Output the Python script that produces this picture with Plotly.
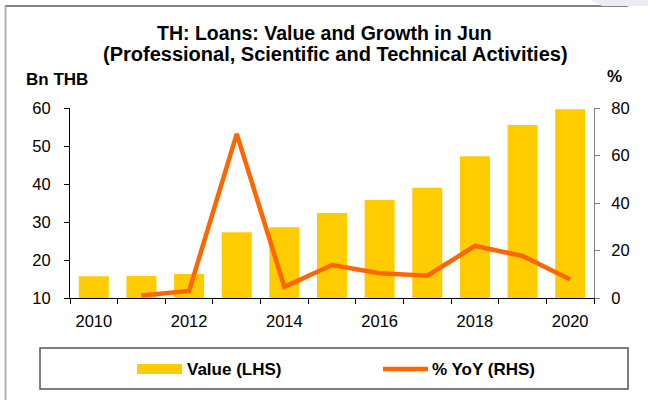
import plotly.graph_objects as go

# Loans to professional, scientific and technical activities (June of each year)
years = list(range(2010, 2021))
value_bn_thb = [15.7, 15.8, 16.3, 27.3, 28.6, 32.4, 35.8, 39.0, 47.3, 55.5, 59.7]
yoy_pct = [None, 1.1, 3.0, 69.1, 4.7, 13.9, 10.4, 9.4, 21.9, 17.7, 7.8]
x_tick_years = [2010, 2012, 2014, 2016, 2018, 2020]

BAR_COLOR = "#FFCC00"
LINE_COLOR = "#FF6600"
FONT = "Arial, 'Liberation Sans', sans-serif"

W, H = 648, 400
L, R, T, B = 70, 54, 108, 102
PW, PH = W - L - R, H - T - B


def px(xp):
    """Pixel column -> paper x."""
    return (xp - L) / PW


def py(yp):
    """Pixel row -> paper y."""
    return (H - B - yp) / PH


fig = go.Figure()
fig.add_trace(go.Bar(
    x=years, y=value_bn_thb, name="Value (LHS)",
    marker=dict(color=BAR_COLOR, line=dict(width=0)),
    yaxis="y", showlegend=False,
))
fig.add_trace(go.Scatter(
    x=years, y=yoy_pct, name="% YoY (RHS)", mode="lines",
    line=dict(color=LINE_COLOR, width=4.5),
    yaxis="y2", showlegend=False, connectgaps=False,
))

fig.update_layout(
    width=W, height=H,
    margin=dict(l=L, r=R, t=T, b=B, pad=0),
    paper_bgcolor="white", plot_bgcolor="white",
    font=dict(family=FONT, size=16, color="black"),
    bargap=0.37,
    xaxis=dict(
        range=[2009.5, 2020.5],
        tickvals=x_tick_years, ticktext=[str(y) for y in x_tick_years],
        ticks="outside", ticklen=5, tickcolor="rgba(0,0,0,0)",
        minor=dict(tickvals=[y - 0.5 for y in years] + [years[-1] + 0.5],
                   ticks="outside", ticklen=5, tickcolor="black", tickwidth=1),
        showline=True, linecolor="black", linewidth=1,
        showgrid=False, zeroline=False,
        tickfont=dict(size=16.5), ticklabelstandoff=3,
    ),
    yaxis=dict(
        range=[10, 60], dtick=10,
        ticks="outside", ticklen=5, tickcolor="black",
        showline=True, linecolor="black", linewidth=1,
        showgrid=False, zeroline=False,
        tickfont=dict(size=16.5), ticklabelstandoff=10,
    ),
    yaxis2=dict(
        range=[0, 80], dtick=20, overlaying="y", side="right",
        ticks="outside", ticklen=5, tickcolor="#808080",
        showline=True, linecolor="#808080", linewidth=1,
        showgrid=False, zeroline=False,
        tickfont=dict(size=16.5), ticklabelstandoff=8,
    ),
)

annotations = [
    dict(text="<b>TH: Loans: Value and Growth in Jun</b>", x=px(324), y=py(33),
         font=dict(size=19.5)),
    dict(text="<b>(Professional, Scientific and Technical Activities)</b>",
         x=px(335), y=py(54), font=dict(size=20)),
    dict(text="<b>Bn THB</b>", x=px(57), y=py(79), font=dict(size=17)),
    dict(text="<b>%</b>", x=px(614), y=py(77), font=dict(size=17)),
    dict(text="<b>Value (LHS)</b>", x=px(185), y=py(369), xanchor="left",
         font=dict(size=17)),
    dict(text="<b>% YoY (RHS)</b>", x=px(430), y=py(369), xanchor="left",
         font=dict(size=17)),
]
for a in annotations:
    a.setdefault("xanchor", "center")
    fig.add_annotation(xref="paper", yref="paper", showarrow=False,
                       yanchor="middle", **a)

shapes = [
    # frame around the whole graphic
    dict(type="line", x0=px(5), x1=px(628), y0=py(6), y1=py(6),
         line=dict(color="#5a5a5a", width=1.5)),
    dict(type="line", x0=px(5.5), x1=px(5.5), y0=py(6), y1=py(400),
         line=dict(color="#b0b0b0", width=2)),
    dict(type="path", path=f"M {px(590)},{py(0)} L {px(648)},{py(0)} "
                           f"L {px(648)},{py(6)} L {px(602)},{py(6)} Z",
         fillcolor="#ECECF4", line=dict(width=0)),
    # legend box and keys
    dict(type="rect", x0=px(40), x1=px(628), y0=py(348), y1=py(389),
         line=dict(color="#555555", width=1.5), fillcolor="rgba(0,0,0,0)"),
    dict(type="rect", x0=px(137), x1=px(182), y0=py(364), y1=py(374),
         line=dict(width=0), fillcolor=BAR_COLOR),
    dict(type="line", x0=px(383), x1=px(428), y0=py(369), y1=py(369),
         line=dict(color=LINE_COLOR, width=4.5)),
]
for s in shapes:
    fig.add_shape(xref="paper", yref="paper", layer="above", **s)

fig.write_html("out.html")
